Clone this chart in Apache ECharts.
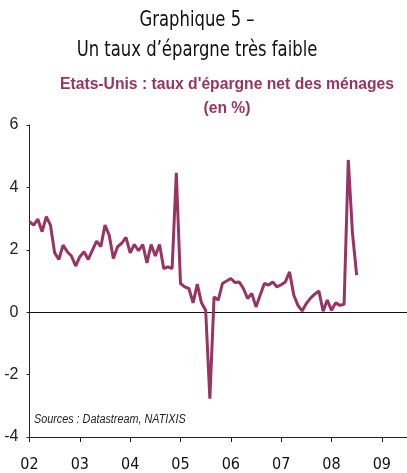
<!DOCTYPE html>
<html>
<head>
<meta charset="utf-8">
<script src="https://cdn.jsdelivr.net/npm/echarts@6/dist/echarts.min.js"></script>
<style>
html,body{margin:0;padding:0;background:#fff;}
#c{width:407px;height:473px;}
</style>
</head>
<body>
<div id="c"></div>
<script>
// Monthly US household net saving rate (%), Jan 2002 .. Jul 2008
var startYear = 2002;
var savingRate = [
  2.90, 2.79, 2.98, 2.58, 3.06, 2.79, 1.90, 1.69, 2.15, 1.94, 1.80, 1.48,
  1.78, 1.94, 1.69, 1.99, 2.28, 2.10, 2.79, 2.47, 1.72, 2.10, 2.21, 2.40,
  1.90, 2.17, 1.97, 2.17, 1.58, 2.17, 1.80, 2.17, 1.40, 1.45, 1.40, 4.47,
  0.92, 0.81, 0.76, 0.30, 0.90, 0.30, 0.06, -2.77, 0.49, 0.39, 0.92, 1.00,
  1.08, 0.95, 0.97, 0.76, 0.44, 0.60, 0.17, 0.55, 0.92, 0.87, 0.97, 0.81,
  0.88, 0.97, 1.29, 0.55, 0.22, 0.04, 0.28, 0.45, 0.58, 0.68, 0.03, 0.39,
  0.06, 0.30, 0.22, 0.25, 4.88, 2.53, 1.19
];
var yearTicks = [0, 12, 24, 36, 48, 60, 72, 84];
var yearLabels = ['02', '03', '04', '05', '06', '07', '08', '09'];
var titleLines = ['Graphique 5 \u2013', 'Un taux d\u2019\u00e9pargne tr\u00e8s faible'];
var subtitleLines = ['Etats-Unis : taux d\'\u00e9pargne net des m\u00e9nages', '(en %)'];
var sourceText = 'Sources : Datastream, NATIXIS';

var lineColor = '#983463';
var seriesData = savingRate.map(function (v, i) { return [i, v]; });
var titleFont = '21px "DejaVu Sans Condensed", sans-serif';
var subFont = 'bold 16px "Liberation Sans", Arial, sans-serif';

var chart = echarts.init(document.getElementById('c'), null, {renderer: 'canvas'});
chart.setOption({
  animation: false,
  backgroundColor: '#fff',
  grid: {left: 29.5, right: 0, top: 125, bottom: 36, containLabel: false},
  graphic: [
    {type: 'text', x: 197, y: 21, scaleX: 0.87, style: {text: titleLines[0], font: titleFont, fill: '#111', align: 'center', verticalAlign: 'middle'}},
    {type: 'text', x: 197, y: 51, scaleX: 0.87, style: {text: titleLines[1], font: titleFont, fill: '#111', align: 'center', verticalAlign: 'middle'}},
    {type: 'text', x: 227, y: 85, scaleX: 0.98, style: {text: subtitleLines[0], font: subFont, fill: lineColor, align: 'center', verticalAlign: 'middle'}},
    {type: 'text', x: 227, y: 109, scaleX: 0.98, style: {text: subtitleLines[1], font: subFont, fill: lineColor, align: 'center', verticalAlign: 'middle'}},
    {type: 'text', x: 34, y: 420, scaleX: 0.9, style: {text: sourceText, font: 'italic 12px "Liberation Sans", Arial, sans-serif', fill: '#222', align: 'left', verticalAlign: 'middle'}}
  ],
  xAxis: {
    type: 'value', min: 0, max: 90, interval: 12,
    axisLine: {show: true, onZero: false, lineStyle: {color: '#222', width: 1}},
    axisTick: {show: true, length: 5, customValues: yearTicks, lineStyle: {color: '#222'}},
    axisLabel: {
      customValues: yearTicks, margin: 20,
      formatter: function (v) { return yearLabels[yearTicks.indexOf(v)]; },
      fontFamily: '"DejaVu Sans Condensed", sans-serif', fontSize: 16, color: '#111'
    },
    splitLine: {show: false}
  },
  yAxis: {
    type: 'value', min: -4, max: 6, interval: 2,
    axisLine: {show: true, lineStyle: {color: '#222', width: 1}},
    axisTick: {show: true, length: 3, lineStyle: {color: '#222'}},
    axisLabel: {margin: 11, fontFamily: '"Liberation Sans", Arial, sans-serif', fontSize: 16, color: '#222'},
    splitLine: {show: false}
  },
  series: [{
    type: 'line', data: seriesData, showSymbol: false, symbol: 'none',
    lineStyle: {color: lineColor, width: 3}, z: 3,
    markLine: {
      silent: true, symbol: 'none', label: {show: false},
      lineStyle: {color: '#111', width: 1, type: 'solid'},
      data: [{yAxis: 0}], z: 1
    }
  }]
});
</script>
</body>
</html>
